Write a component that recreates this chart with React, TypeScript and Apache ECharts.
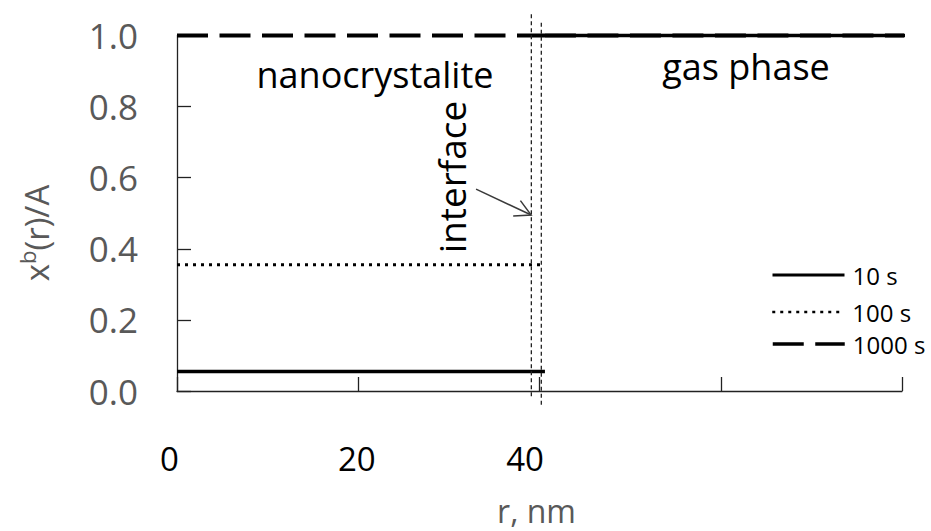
import React, { useEffect, useRef } from "react";
import * as echarts from "echarts";

const FONT = "'Open Sans', 'Noto Sans', sans-serif";

// Radius extents (nm) of the nanocrystal and of the surrounding gas phase
const crystalR = [0, 40.6];
const gasR = [40.6, 80.9];

// Normalised concentration x^b(r)/A inside the nanocrystal after each time
const seriesNames = ["10 s", "100 s", "1000 s"];
const crystalLevels = [0.055, 0.355, 1.0];
const gasLevel = 1.0;

// Interface boundaries: radius and vertical extent of each marker line
const interfaceR = [39.1, 40.2];
const interfaceTop = [1.06, 1.036];
const interfaceBottom = [-0.019, -0.047];

// Arrow from the "interface" label to the boundary, as [r, x^b/A]
const arrowFrom = [33.0, 0.568];
const arrowTo = [39.08, 0.495];

// Axis ticks
const xMax = 80;
const xStep = 20;
const xLabelledTicks = [0, 20, 40];
const yMax = 1.0;
const yStep = 0.2;

// Styling
const lineStyles = [
  { width: 3.5, type: "solid" as any },
  { width: 3, type: [3, 5] as any },
  { width: 4, type: [31, 11.5] as any },
];
const legendTops = [263, 300, 332];
// right padding (px) nudging each x tick label to the left of its tick
const xLabelNudge = [15, 3, 29];

export default function App() {
  const ref = useRef<HTMLDivElement>(null);

  useEffect(() => {
    if (!ref.current) return;
    const chart = echarts.init(ref.current, undefined, { renderer: "svg" });

    const profileSeries = seriesNames.map((name, i) => ({
      name,
      type: "line",
      symbol: "none",
      clip: false,
      silent: true,
      z: 3 + i,
      lineStyle: { color: "#000", ...lineStyles[i] },
      data: [
        [crystalR[0], crystalLevels[i]],
        [crystalR[1], crystalLevels[i]],
        [crystalR[1], "-"],
        [gasR[0], gasLevel],
        [gasR[1], gasLevel],
      ],
    }));

    const interfaceSeries = interfaceR.map((r, i) => ({
      name: "interface-" + i,
      type: "line",
      symbol: "none",
      clip: false,
      silent: true,
      z: 6,
      lineStyle: { color: "#222", width: 1.3, type: [4, 3] as any },
      data: [
        [r, interfaceTop[i]],
        [r, interfaceBottom[i]],
      ],
    }));

    const arrowSeries = {
      type: "custom",
      coordinateSystem: "cartesian2d",
      silent: true,
      clip: false,
      z: 7,
      data: [[arrowFrom[0], arrowFrom[1], arrowTo[0], arrowTo[1]]],
      encode: { x: [0, 2], y: [1, 3] },
      renderItem: (_params: any, api: any) => {
        const p0 = api.coord([api.value(0), api.value(1)]);
        const p1 = api.coord([api.value(2), api.value(3)]);
        const ang = Math.atan2(p1[1] - p0[1], p1[0] - p0[0]);
        const len = 18;
        const spread = 0.49;
        const a1 = [p1[0] - len * Math.cos(ang - spread), p1[1] - len * Math.sin(ang - spread)];
        const a2 = [p1[0] - len * Math.cos(ang + spread), p1[1] - len * Math.sin(ang + spread)];
        const stroke = { stroke: "#3a3a3a", lineWidth: 1.5, fill: "none" };
        return {
          type: "group",
          children: [
            { type: "line", shape: { x1: p0[0], y1: p0[1], x2: p1[0], y2: p1[1] }, style: stroke },
            { type: "polyline", shape: { points: [a1, p1, a2] }, style: stroke },
          ],
        };
      },
    };

    const xRich: Record<string, any> = {};
    xLabelledTicks.forEach((v, i) => {
      xRich["t" + v] = {
        fontSize: 33,
        fontFamily: FONT,
        color: "#000",
        padding: [0, xLabelNudge[i], 0, 0],
      };
    });

    chart.setOption({
      animation: false,
      backgroundColor: "#fff",
      textStyle: { fontFamily: FONT },
      grid: { left: 177, right: 29, top: 35.5, bottom: 133, containLabel: false },
      xAxis: {
        type: "value",
        min: 0,
        max: xMax,
        interval: xStep,
        splitLine: { show: false },
        axisLine: { lineStyle: { color: "#222", width: 1.3 } },
        axisTick: { inside: true, length: 14, lineStyle: { color: "#222", width: 1.3 } },
        axisLabel: {
          margin: 51,
          fontSize: 33,
          color: "#000",
          fontFamily: FONT,
          formatter: (v: number) => (xLabelledTicks.includes(v) ? `{t${v}|${v}}` : ""),
          rich: xRich,
        },
        name: "r, nm",
        nameLocation: "middle",
        nameGap: 103,
        nameTextStyle: { fontSize: 32, color: "#595959", fontFamily: FONT, padding: [0, 6, 0, 0] },
      },
      yAxis: {
        type: "value",
        min: 0,
        max: yMax,
        interval: yStep,
        splitLine: { show: false },
        axisLine: { lineStyle: { color: "#222", width: 1.3 } },
        axisTick: { inside: true, length: 14, lineStyle: { color: "#222", width: 1.3 } },
        axisLabel: {
          margin: 39,
          fontSize: 35,
          color: "#595959",
          fontFamily: FONT,
          formatter: (v: number) => v.toFixed(1),
        },
      },
      legend: seriesNames.map((name, i) => ({
        data: [name],
        left: 771,
        top: legendTops[i],
        orient: "vertical",
        padding: 0,
        itemGap: 0,
        itemWidth: 72,
        itemHeight: 14,
        selectedMode: false,
        itemStyle: { color: "rgba(0,0,0,0)", borderWidth: 0, opacity: 0 },
        lineStyle: { width: lineStyles[i].width - 0.5 },
        textStyle: { fontSize: 24, color: "#000", fontFamily: FONT, padding: [0, 0, 0, 3] },
      })),
      graphic: [
        {
          type: "text",
          x: 375,
          y: 74,
          style: {
            text: "nanocrystalite",
            fontSize: 36,
            fontFamily: FONT,
            fill: "#000",
            align: "center",
            verticalAlign: "middle",
          },
        },
        {
          type: "text",
          x: 746,
          y: 66,
          style: {
            text: "gas phase",
            fontSize: 36,
            fontFamily: FONT,
            fill: "#000",
            align: "center",
            verticalAlign: "middle",
          },
        },
        {
          type: "text",
          x: 451,
          y: 177,
          rotation: Math.PI / 2,
          style: {
            text: "interface",
            fontSize: 37,
            fontFamily: FONT,
            fill: "#000",
            align: "center",
            verticalAlign: "middle",
          },
        },
        {
          type: "text",
          x: 34,
          y: 233,
          rotation: Math.PI / 2,
          style: {
            text: "{m|x}{s|b}{m|(r)/A}",
            fontFamily: FONT,
            fill: "#595959",
            align: "center",
            verticalAlign: "middle",
            rich: {
              m: { fontSize: 33, fontFamily: FONT, fill: "#595959", verticalAlign: "bottom", lineHeight: 37 },
              s: { fontSize: 22, fontFamily: FONT, fill: "#595959", verticalAlign: "top", lineHeight: 37 },
            },
          },
        },
      ],
      series: [...profileSeries, ...interfaceSeries, arrowSeries],
    });

    return () => chart.dispose();
  }, []);

  return (
    <div
      ref={ref}
      style={{ position: "absolute", left: 0, top: 0, width: 931, height: 531 }}
    />
  );
}
